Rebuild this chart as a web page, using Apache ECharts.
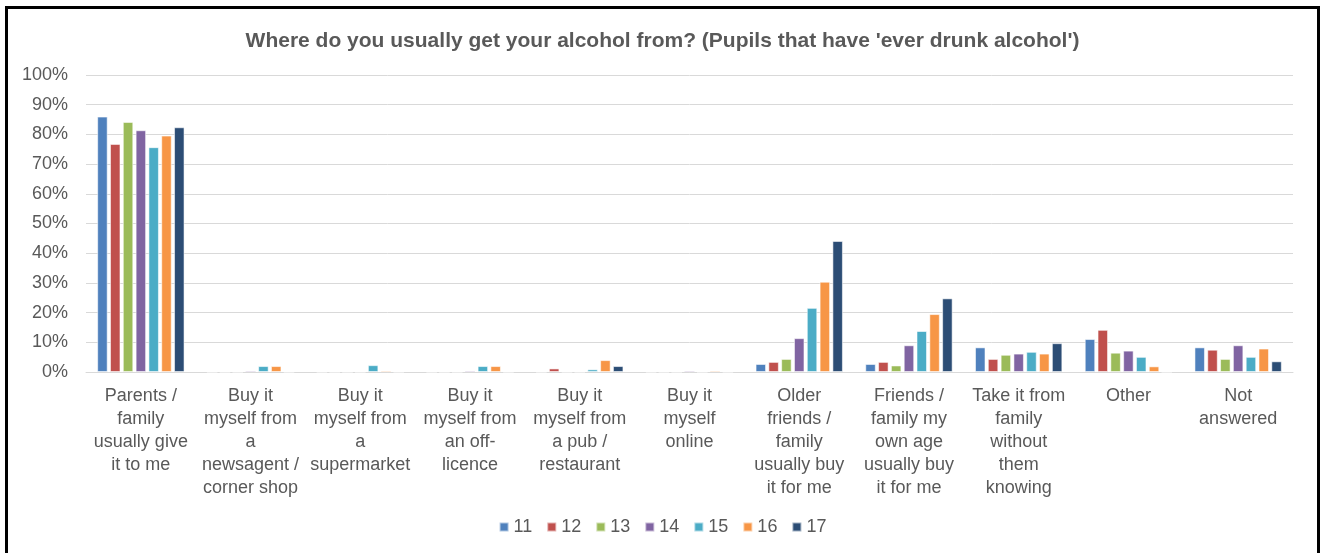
<!DOCTYPE html>
<html>
<head>
<meta charset="utf-8">
<script src="https://cdn.jsdelivr.net/npm/echarts@6/dist/echarts.min.js"></script>
<style>
html,body{margin:0;padding:0;background:#fff;}
#chart{width:1325px;height:553px;}
</style>
</head>
<body>
<div id="chart"></div>
<script>
const titleText = "Where do you usually get your alcohol from? (Pupils that have 'ever drunk alcohol')";
const categories = [
  "Parents /\nfamily\nusually give\nit to me",
  "Buy it\nmyself from\na\nnewsagent /\ncorner shop",
  "Buy it\nmyself from\na\nsupermarket",
  "Buy it\nmyself from\nan off-\nlicence",
  "Buy it\nmyself from\na pub /\nrestaurant",
  "Buy it\nmyself\nonline",
  "Older\nfriends /\nfamily\nusually buy\nit for me",
  "Friends /\nfamily my\nown age\nusually buy\nit for me",
  "Take it from\nfamily\nwithout\nthem\nknowing",
  "Other",
  "Not\nanswered"
];
const seriesNames = ["11", "12", "13", "14", "15", "16", "17"];
const age11 = [86.0, 0, 0, 0, 0, 0, 2.7, 2.7, 8.3, 11.1, 8.3];
const age12 = [76.8, 0, 0, 0, 1.2, 0, 3.4, 3.4, 4.4, 14.2, 7.5];
const age13 = [84.2, 0, 0, 0, 0, 0, 4.4, 2.2, 5.8, 6.5, 4.4];
const age14 = [81.4, 0.5, 0, 0.5, 0, 0.5, 11.4, 9.0, 6.2, 7.2, 9.0];
const age15 = [75.7, 2.0, 2.3, 2.0, 0.9, 0, 21.6, 13.8, 6.8, 5.1, 5.1];
const age16 = [79.6, 2.0, 0.5, 2.0, 4.0, 0.5, 30.4, 19.5, 6.2, 1.9, 7.9];
const age17 = [82.4, 0, 0, 0, 2.0, 0, 44.1, 24.8, 9.7, 0, 3.6];
const yTicks = [0, 10, 20, 30, 40, 50, 60, 70, 80, 90, 100];
const colors = ["#4F81BD", "#C0504D", "#9BBB59", "#8064A2", "#4BACC6", "#F79646", "#2C4D75"];

const allData = [age11, age12, age13, age14, age15, age16, age17];
const font = "Arial, 'Liberation Sans', sans-serif";
const chart = echarts.init(document.getElementById('chart'), null, {renderer: 'canvas'});
chart.setOption({
  animation: false,
  color: colors,
  title: {
    text: titleText,
    left: 'center',
    top: 26,
    textStyle: {fontFamily: font, fontSize: 21, fontWeight: 'bold', color: '#595959'}
  },
  legend: {
    data: seriesNames,
    bottom: 12,
    left: 'center',
    icon: 'rect',
    itemWidth: 9,
    itemHeight: 9,
    itemGap: 14,
    textStyle: {fontFamily: font, fontSize: 18, color: '#595959'}
  },
  grid: {left: 86, right: 32, top: 75, bottom: 181, containLabel: false},
  xAxis: {
    type: 'category',
    data: categories,
    axisTick: {show: false},
    axisLine: {lineStyle: {color: '#d9d9d9', width: 1}},
    axisLabel: {
      interval: 0,
      fontFamily: font,
      fontSize: 18,
      color: '#595959',
      lineHeight: 23,
      margin: 13,
      align: 'center'
    }
  },
  yAxis: {
    type: 'value',
    min: yTicks[0],
    max: yTicks[yTicks.length - 1],
    interval: 10,
    axisLine: {show: false},
    axisTick: {show: false},
    splitLine: {lineStyle: {color: '#d9d9d9', width: 1}},
    axisLabel: {
      fontFamily: font,
      fontSize: 18,
      color: '#595959',
      margin: 18,
      formatter: '{value}%'
    }
  },
  series: seriesNames.map((n, i) => ({
    name: n,
    type: 'bar',
    data: allData[i],
    barWidth: 10.5,
    barGap: '22%',
    itemStyle: {borderColor: 'rgba(255,255,255,0.55)', borderWidth: 1}
  })),
  graphic: [{
    type: 'rect',
    silent: true,
    shape: {x: 6.5, y: 7.5, width: 1312, height: 600},
    style: {fill: null, stroke: '#000', lineWidth: 3}
  }]
});
</script>
</body>
</html>
